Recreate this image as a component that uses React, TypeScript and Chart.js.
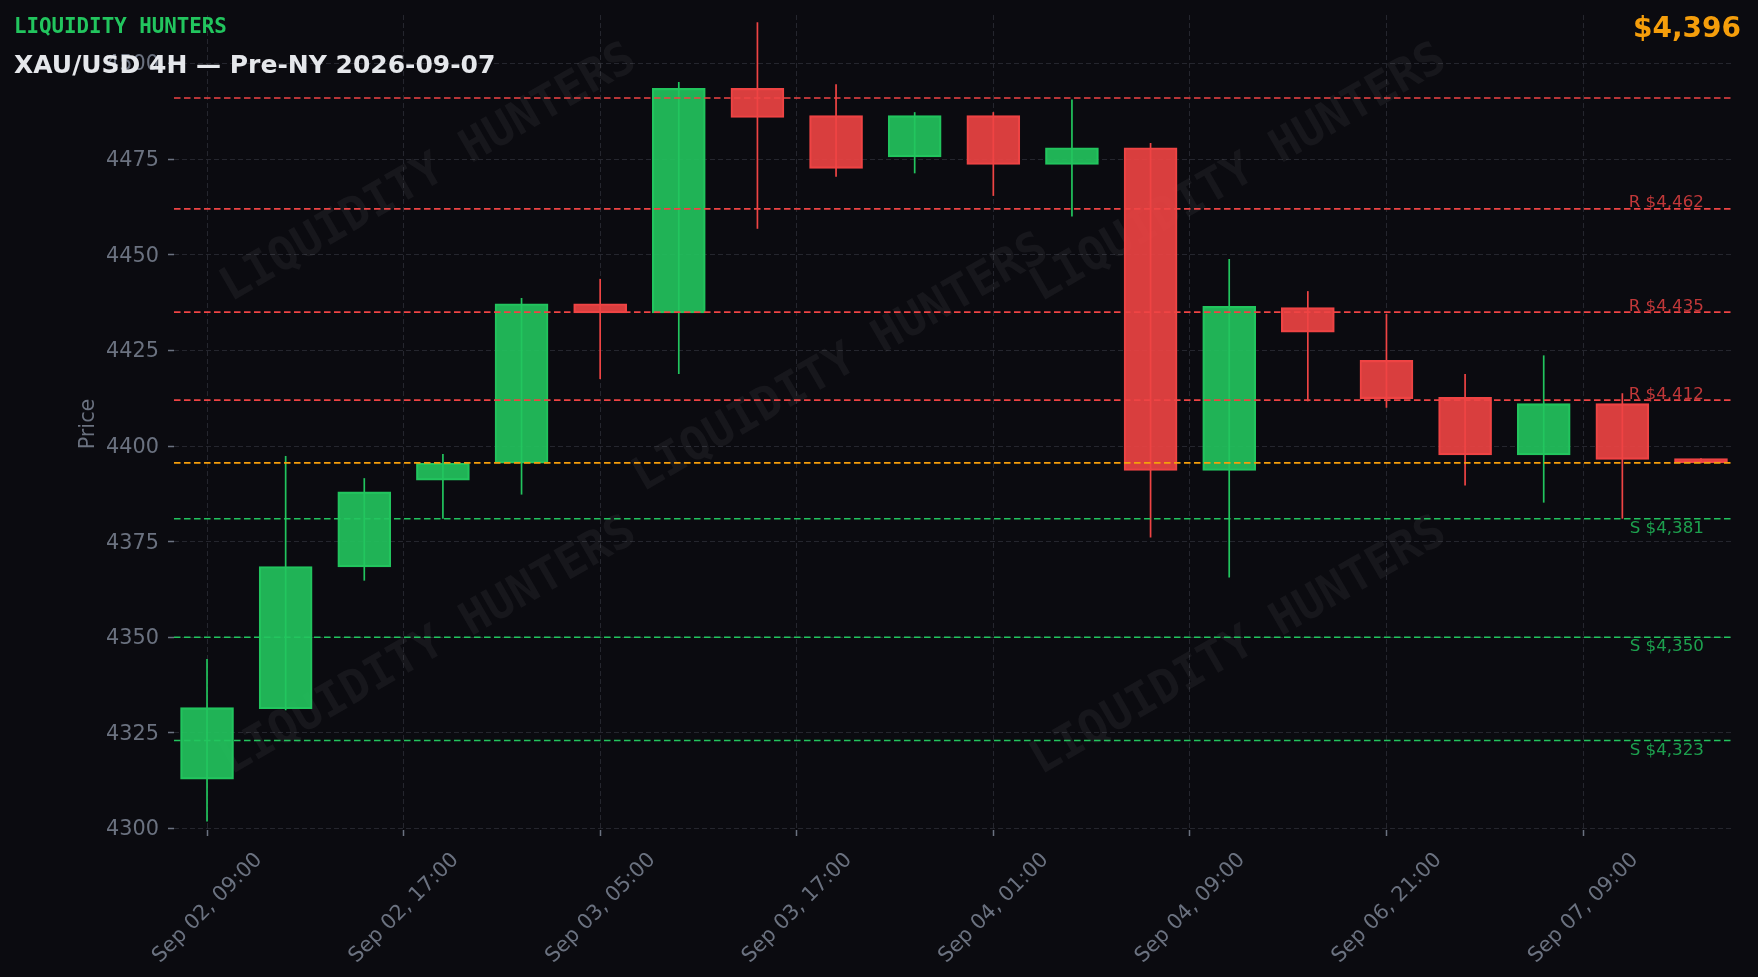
import React, { useEffect, useRef } from 'react';
import { Chart, registerables } from 'chart.js';

Chart.register(...registerables);

// ---------- data ----------
const CATEGORIES = [
  'Sep 02, 09:00', 'Sep 02, 13:00', 'Sep 02, 17:00', 'Sep 02, 21:00',
  'Sep 03, 01:00', 'Sep 03, 05:00', 'Sep 03, 09:00', 'Sep 03, 13:00',
  'Sep 03, 17:00', 'Sep 03, 21:00', 'Sep 04, 01:00', 'Sep 04, 05:00',
  'Sep 04, 09:00', 'Sep 04, 13:00', 'Sep 04, 17:00', 'Sep 06, 21:00',
  'Sep 07, 01:00', 'Sep 07, 05:00', 'Sep 07, 09:00', 'Sep 07, 13:00',
];
const OPENS = [4312.9, 4331.3, 4368.4, 4391.1, 4395.5, 4437.2, 4434.8, 4493.5, 4486.4, 4475.6,
  4486.4, 4473.6, 4478.0, 4393.6, 4436.2, 4422.4, 4412.7, 4397.7, 4411.1, 4396.7];
const HIGHS = [4344.3, 4397.4, 4391.6, 4397.9, 4438.7, 4443.7, 4495.2, 4510.8, 4494.6, 4487.3,
  4487.3, 4490.6, 4479.2, 4448.9, 4440.5, 4434.5, 4418.8, 4423.7, 4413.8, 4396.8];
const LOWS = [4301.8, 4330.9, 4364.8, 4381.0, 4387.3, 4417.5, 4418.8, 4456.8, 4470.4, 4471.3,
  4465.4, 4460.0, 4376.1, 4365.6, 4411.7, 4410.0, 4389.7, 4385.2, 4381.0, 4395.5];
const CLOSES = [4331.6, 4368.5, 4388.0, 4395.5, 4437.2, 4434.8, 4493.5, 4485.9, 4472.6, 4486.4,
  4473.6, 4478.0, 4393.6, 4436.5, 4429.8, 4412.4, 4397.7, 4411.1, 4396.5, 4395.6];

const RESISTANCE_LEVELS = [4462, 4435, 4412];
const SUPPORT_LEVELS = [4381, 4350, 4323];
const RANGE_HIGH_LEVELS = [4491];
const CURRENT_PRICE = CLOSES[CLOSES.length - 1];

const BRAND = 'LIQUIDITY HUNTERS';
const TITLE = 'XAU/USD 4H — Pre-NY 2026-09-07';
const Y_LABEL = 'Price';

// axis limits / ticks
const Y_MIN = 4299.6;
const Y_MAX = 4512.7;
const Y_STEP = 25;
const X_MIN = -0.42;
const X_MAX = 19.42;
const X_STEP = 2.5;

// ---------- styles ----------
const BG = '#0b0b10';
const GREEN = '#22c55e';
const RED = '#ef4444';
const ORANGE = '#f59e0b';
const GREEN_FILL = 'rgba(34,197,94,0.9)';
const RED_FILL = 'rgba(239,68,68,0.9)';
const GRID = '#25262e';
const TICK_TEXT = '#6b7280';
const FONT = "'DejaVu Sans', sans-serif";
const MONO = "'DejaVu Sans Mono', monospace";
const WATERMARK_CENTERS = [[429, 174], [841, 364], [1239, 174], [429, 647], [1239, 647]];

function roundHalfEven(v: number): number {
  const f = Math.floor(v);
  const d = v - f;
  if (Math.abs(d - 0.5) < 1e-9) return f % 2 === 0 ? f : f + 1;
  return Math.round(v);
}

function fmtPrice(v: number): string {
  return '$' + Math.round(v).toLocaleString('en-US');
}

export default function App() {
  const ref = useRef<HTMLCanvasElement | null>(null);

  useEffect(() => {
    document.body.style.margin = '0';
    document.body.style.background = BG;
    const canvas = ref.current;
    if (!canvas) return;

    const n = CATEGORIES.length;
    const up = CATEGORIES.map((_, i) => CLOSES[i] >= OPENS[i]);
    const fills = up.map((u) => (u ? GREEN_FILL : RED_FILL));
    const edges = up.map((u) => (u ? GREEN : RED));

    const levelLine = (level: number, color: string, order: number) => ({
      type: 'line' as const,
      data: [{ x: X_MIN, y: level }, { x: X_MAX, y: level }],
      borderColor: color,
      borderWidth: 1.6,
      borderDash: [6.5, 3.5],
      pointRadius: 0,
      fill: false,
      tension: 0,
      order,
    });

    const decor = {
      id: 'decor',
      beforeDraw(chart: any) {
        const c = chart.ctx;
        c.save();
        c.fillStyle = BG;
        c.fillRect(0, 0, chart.width, chart.height);
        c.restore();
      },
      beforeDatasetsDraw(chart: any) {
        const c = chart.ctx;
        const a = chart.chartArea;
        c.save();
        c.beginPath();
        c.rect(a.left, a.top, a.right - a.left, a.bottom - a.top);
        c.clip();
        c.font = `bold 46px ${MONO}`;
        c.fillStyle = 'rgba(255,255,255,0.05)';
        c.textAlign = 'center';
        c.textBaseline = 'middle';
        for (const [cx, cy] of WATERMARK_CENTERS) {
          c.save();
          c.translate(cx, cy);
          c.rotate((-30 * Math.PI) / 180);
          c.fillText(BRAND, 0, 0);
          c.restore();
        }
        c.restore();
      },
      afterDatasetsDraw(chart: any) {
        const c = chart.ctx;
        const xs = chart.scales.x;
        const ys = chart.scales.y;
        const xr = xs.getPixelForValue(n - 1) + 3;
        c.save();
        c.font = `16.7px ${FONT}`;
        c.textAlign = 'right';
        c.textBaseline = 'alphabetic';
        c.fillStyle = 'rgba(239,68,68,0.8)';
        for (const lv of RESISTANCE_LEVELS) {
          c.fillText('R ' + fmtPrice(lv), xr, ys.getPixelForValue(lv) - 1.5);
        }
        c.fillStyle = 'rgba(34,197,94,0.8)';
        for (const lv of SUPPORT_LEVELS) {
          c.fillText('S ' + fmtPrice(lv), xr, ys.getPixelForValue(lv) + 14);
        }
        c.restore();
      },
      afterDraw(chart: any) {
        const c = chart.ctx;
        const a = chart.chartArea;
        c.save();
        c.textBaseline = 'alphabetic';
        c.textAlign = 'left';
        c.font = `bold 20.8px ${MONO}`;
        c.fillStyle = GREEN;
        c.fillText(BRAND, 14, 33.3);
        c.font = `bold 25px ${FONT}`;
        c.fillStyle = '#e5e7eb';
        c.fillText(TITLE, 14, 72.7);
        c.font = `bold 28px ${FONT}`;
        c.fillStyle = ORANGE;
        c.textAlign = 'right';
        c.fillText(fmtPrice(CURRENT_PRICE), 1741, 37.3);
        // y axis title
        c.save();
        c.translate(88.5, (a.top + a.bottom) / 2 + 1.5);
        c.rotate(-Math.PI / 2);
        c.textAlign = 'center';
        c.textBaseline = 'middle';
        c.font = `20.8px ${FONT}`;
        c.fillStyle = TICK_TEXT;
        c.fillText(Y_LABEL, 0, 0);
        c.restore();
        c.restore();
      },
    };

    const chart = new Chart(canvas, {
      type: 'bar',
      data: {
        datasets: [
          ...RANGE_HIGH_LEVELS.map((lv) => levelLine(lv, RED, 1)),
          ...RESISTANCE_LEVELS.map((lv) => levelLine(lv, RED, 1)),
          ...SUPPORT_LEVELS.map((lv) => levelLine(lv, GREEN, 1)),
          levelLine(CURRENT_PRICE, ORANGE, 0),
          {
            type: 'bar' as const,
            data: CATEGORIES.map((_, i) => ({ x: i, y: [OPENS[i], CLOSES[i]] })),
            backgroundColor: fills,
            borderColor: edges,
            borderWidth: 1.5,
            borderSkipped: false,
            barThickness: 53,
            grouped: false,
            order: 2,
          },
          {
            type: 'bar' as const,
            data: CATEGORIES.map((_, i) => ({ x: i, y: [LOWS[i], HIGHS[i]] })),
            backgroundColor: edges,
            borderWidth: 0,
            borderSkipped: false,
            barThickness: 1.7,
            inflateAmount: 0,
            grouped: false,
            order: 3,
          },
        ] as any,
      },
      options: {
        responsive: false,
        devicePixelRatio: 1,
        animation: false,
        layout: { padding: { top: 15, right: 24, bottom: 0, left: 0 } },
        plugins: {
          legend: { display: false },
          tooltip: { enabled: false },
          title: { display: false },
        },
        scales: {
          x: {
            type: 'linear',
            min: X_MIN,
            max: X_MAX,
            offset: false,
            afterFit: (s: any) => {
              s.height = 147;
              s.paddingLeft = 0;
              s.paddingRight = 0;
            },
            grid: {
              offset: false,
              color: GRID,
              lineWidth: 1,
              tickLength: 6,
              tickColor: TICK_TEXT,
              tickWidth: 1.5,
              tickBorderDash: [],
            },
            border: { display: false, dash: [5, 3] },
            ticks: {
              stepSize: X_STEP,
              includeBounds: false,
              autoSkip: false,
              maxRotation: 45,
              minRotation: 45,
              padding: 12,
              labelOffset: 52,
              color: TICK_TEXT,
              font: { family: FONT, size: 20.8 },
              callback: (v: any) => {
                const i = roundHalfEven(Number(v));
                return i >= 0 && i < n ? CATEGORIES[i] : '';
              },
            },
          },
          y: {
            type: 'linear',
            min: Y_MIN,
            max: Y_MAX,
            afterFit: (s: any) => {
              s.width = 174;
              s.paddingTop = 0;
              s.paddingBottom = 0;
            },
            grid: {
              color: GRID,
              lineWidth: 1,
              tickLength: 6,
              tickColor: TICK_TEXT,
              tickWidth: 1.5,
              tickBorderDash: [],
            },
            border: { display: false, dash: [5, 3] },
            ticks: {
              stepSize: Y_STEP,
              includeBounds: false,
              padding: 9,
              labelOffset: 1.5,
              color: TICK_TEXT,
              font: { family: FONT, size: 20.8 },
              callback: (v: any) => String(Math.round(Number(v))),
            },
          },
        },
      } as any,
      plugins: [decor],
    });

    return () => chart.destroy();
  }, []);

  return (
    <canvas
      ref={ref}
      width={1758}
      height={977}
      style={{ display: 'block', width: '1758px', height: '977px' }}
    />
  );
}
